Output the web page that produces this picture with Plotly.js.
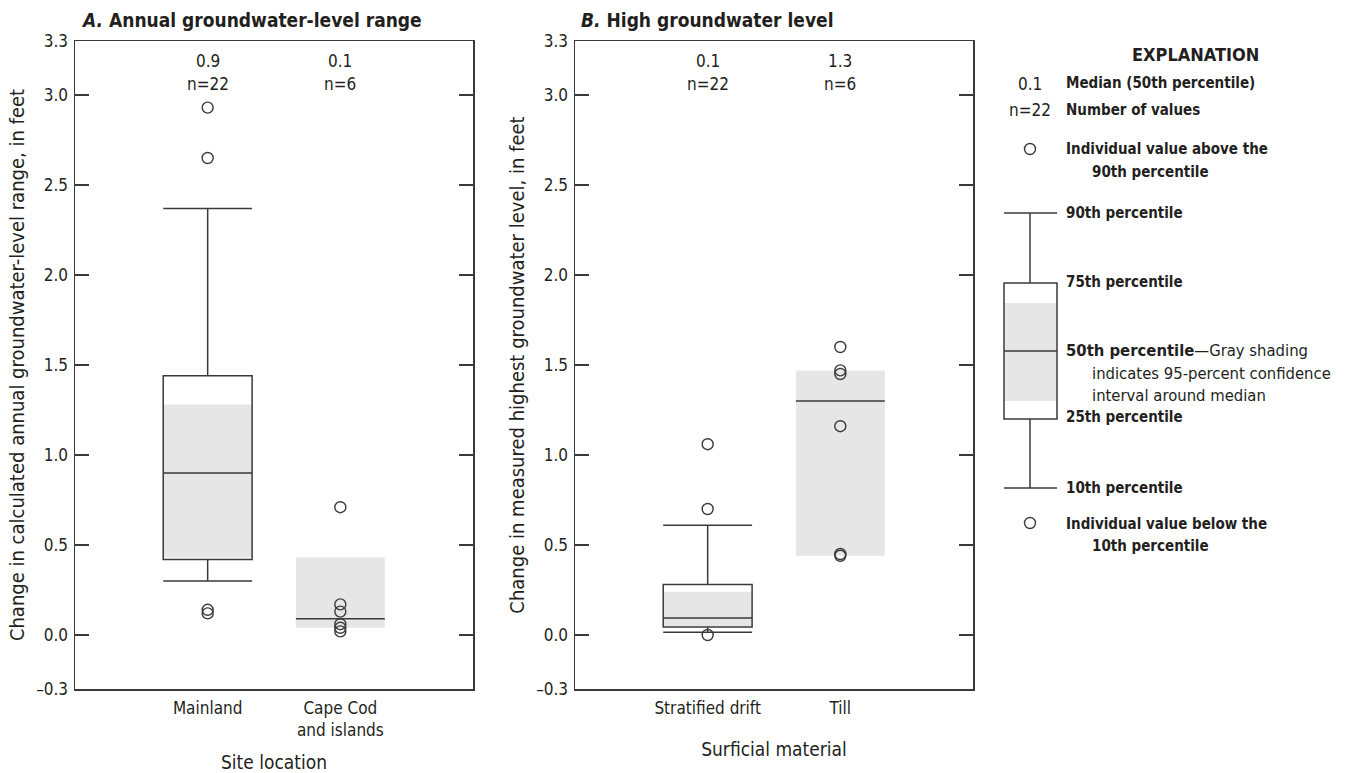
<!DOCTYPE html>
<html>
<head>
<meta charset="utf-8">
<script src="https://cdn.plot.ly/plotly-3.0.1.min.js"></script>
<style>html,body{margin:0;padding:0;background:#fff;}#chart{width:1348px;height:773px;}</style>
</head>
<body>
<div id="chart"></div>
<script>
// ---------- DATA ----------
// Panel A: annual groundwater-level range, by site location
const catsA = ["Mainland", "Cape Cod<br>and islands"];
const medianLabelA = ["0.9", "0.1"];
const countA = [22, 6];
// box statistics (only for groups with a drawn box)
const boxA_p10 = [0.30];
const boxA_q1 = [0.42];
const boxA_med = [0.90];
const boxA_q3 = [1.44];
const boxA_p90 = [2.37];
// medians and 95% CI for each group
const medA = [0.90, 0.09];
const ciLowA = [0.43, 0.04];
const ciHighA = [1.28, 0.43];
// individual values
const ptsMainland = [2.93, 2.65, 0.14, 0.12];
const ptsCapeCod = [0.71, 0.17, 0.13, 0.06, 0.04, 0.02];

// Panel B: high groundwater level, by surficial material
const catsB = ["Stratified drift", "Till"];
const medianLabelB = ["0.1", "1.3"];
const countB = [22, 6];
const boxB_p10 = [0.015];
const boxB_q1 = [0.045];
const boxB_med = [0.095];
const boxB_q3 = [0.28];
const boxB_p90 = [0.61];
const medB = [0.095, 1.30];
const ciLowB = [0.05, 0.44];
const ciHighB = [0.24, 1.47];
const ptsStratified = [1.06, 0.70, 0.0];
const ptsTill = [1.60, 1.47, 1.45, 1.16, 0.45, 0.44];

const yTickVals = [-0.3, 0, 0.5, 1.0, 1.5, 2.0, 2.5, 3.0, 3.3];
const yTickText = ["\u20130.3", "0.0", "0.5", "1.0", "1.5", "2.0", "2.5", "3.0", "3.3"];

// ---------- STYLE ----------
const W = 1348, H = 773;
const FONT = "'Liberation Sans Narrow', 'DejaVu Sans Condensed', 'Arial Narrow', sans-serif";
const INK = "#231f20";
const LINE = "#3a3a3a";
const SHADE = "#e6e6e6";
const BOXW = 0.67;
const px = v => v / W;
const py = v => 1 - v / H;

const traces = [];
const shapes = [];
const annotations = [];

function addPanel(xa, ya, cats, boxStats, meds, ciLo, ciHi, ptsList, medLabels, counts) {
  cats.forEach((c, i) => {
    shapes.push({type: 'rect', xref: xa, yref: ya, layer: 'below',
      x0: i - BOXW / 2, x1: i + BOXW / 2, y0: ciLo[i], y1: ciHi[i],
      fillcolor: SHADE, line: {width: 0}});
    if (counts[i] < 10) {
      shapes.push({type: 'line', xref: xa, yref: ya,
        x0: i - BOXW / 2, x1: i + BOXW / 2, y0: meds[i], y1: meds[i],
        line: {color: LINE, width: 1.5}});
    }
    annotations.push({xref: xa, yref: 'paper', x: i, y: py(61), text: medLabels[i],
      showarrow: false, font: {family: FONT, size: 17, color: INK}, yanchor: 'middle'});
    annotations.push({xref: xa, yref: 'paper', x: i, y: py(84), text: 'n=' + counts[i],
      showarrow: false, font: {family: FONT, size: 17, color: INK}, yanchor: 'middle'});
  });
  traces.push({type: 'box', xaxis: xa, yaxis: ya, x: [0],
    q1: boxStats.q1, median: boxStats.med, q3: boxStats.q3,
    lowerfence: boxStats.p10, upperfence: boxStats.p90,
    width: BOXW, whiskerwidth: 1, fillcolor: 'rgba(0,0,0,0)',
    line: {color: LINE, width: 1.5}, boxpoints: false, hoverinfo: 'skip', showlegend: false});
  ptsList.forEach((pts, i) => {
    traces.push({type: 'scatter', mode: 'markers', xaxis: xa, yaxis: ya,
      x: pts.map(() => i), y: pts,
      marker: {symbol: 'circle-open', size: 11, color: LINE, line: {width: 1.4, color: LINE}},
      hoverinfo: 'skip', showlegend: false});
  });
}

addPanel('x', 'y', catsA,
  {q1: boxA_q1, med: boxA_med, q3: boxA_q3, p10: boxA_p10, p90: boxA_p90},
  medA, ciLowA, ciHighA, [ptsMainland, ptsCapeCod], medianLabelA, countA);
addPanel('x2', 'y2', catsB,
  {q1: boxB_q1, med: boxB_med, q3: boxB_q3, p10: boxB_p10, p90: boxB_p90},
  medB, ciLowB, ciHighB, [ptsStratified, ptsTill], medianLabelB, countB);

// panel titles
annotations.push({xref: 'paper', yref: 'paper', x: px(79), y: py(20), xanchor: 'left', yanchor: 'middle',
  text: '<b><i>A.</i> Annual groundwater-level range</b>', showarrow: false,
  font: {family: FONT, size: 19, color: INK}});
annotations.push({xref: 'paper', yref: 'paper', x: px(579), y: py(20), xanchor: 'left', yanchor: 'middle',
  text: '<b><i>B.</i> High groundwater level</b>', showarrow: false,
  font: {family: FONT, size: 19, color: INK}});

// ---------- EXPLANATION (legend) ----------
const LX = 1030, LL = 1004, LR = 1057, TX = 1064, TI = 1090;
const legText = (x, y, t, bold, size) => annotations.push({xref: 'paper', yref: 'paper',
  x: px(x), y: py(y), xanchor: 'left', yanchor: 'middle', showarrow: false,
  text: bold ? '<b>' + t + '</b>' : t, font: {family: FONT, size: size || 15, color: INK}});
annotations.push({xref: 'paper', yref: 'paper', x: px(1195), y: py(54), xanchor: 'center', yanchor: 'middle',
  showarrow: false, text: '<b>EXPLANATION</b>', font: {family: FONT, size: 18, color: INK}});
annotations.push({xref: 'paper', yref: 'paper', x: px(LX), y: py(84), xanchor: 'center', yanchor: 'middle',
  showarrow: false, text: '0.1', font: {family: FONT, size: 17, color: INK}});
annotations.push({xref: 'paper', yref: 'paper', x: px(LX), y: py(110), xanchor: 'center', yanchor: 'middle',
  showarrow: false, text: 'n=22', font: {family: FONT, size: 17, color: INK}});
legText(TX, 83, 'Median (50th percentile)', true);
legText(TX, 110, 'Number of values', true);
legText(TX, 149, 'Individual value above the', true);
legText(TI, 172, '90th percentile', true);
legText(TX, 213, '90th percentile', true);
legText(TX, 282, '75th percentile', true);
legText(TX, 350, '<b>50th percentile</b>\u2014Gray shading', false, 16.5);
legText(TI, 373, 'indicates 95-percent confidence', false, 16.5);
legText(TI, 395, 'interval around median', false, 16.5);
legText(TX, 417, '25th percentile', true);
legText(TX, 488, '10th percentile', true);
legText(TX, 524, 'Individual value below the', true);
legText(TI, 546, '10th percentile', true);

const pl = (x0, y0, x1, y1) => shapes.push({type: 'line', xref: 'paper', yref: 'paper',
  x0: px(x0), y0: py(y0), x1: px(x1), y1: py(y1), line: {color: LINE, width: 1.5}});
shapes.push({type: 'rect', xref: 'paper', yref: 'paper', x0: px(LL + 1), x1: px(LR - 1),
  y0: py(303), y1: py(401), fillcolor: SHADE, line: {width: 0}});
pl(LL, 213, LR, 213);
pl(LX, 213, LX, 283);
shapes.push({type: 'rect', xref: 'paper', yref: 'paper', x0: px(LL), x1: px(LR),
  y0: py(283), y1: py(419), fillcolor: 'rgba(0,0,0,0)', line: {color: LINE, width: 1.5}});
pl(LL, 351, LR, 351);
pl(LX, 419, LX, 488);
pl(LL, 488, LR, 488);
[149, 523].forEach(cy => shapes.push({type: 'circle', xref: 'paper', yref: 'paper',
  x0: px(LX - 5.5), x1: px(LX + 5.5), y0: py(cy + 5.5), y1: py(cy - 5.5),
  line: {color: LINE, width: 1.4}}));

// ---------- AXES ----------
const yDomain = [py(689), py(41)];
function xAxis(domain, cats, title, anchor, standoff) {
  return {domain: domain, anchor: anchor, range: [-1, 2], tickvals: [0, 1], ticktext: cats,
    ticks: '', showline: true, mirror: true, linecolor: LINE, linewidth: 1.5,
    showgrid: false, zeroline: false, fixedrange: true, ticklabelstandoff: 3,
    tickfont: {family: FONT, size: 17, color: INK},
    title: {text: title, standoff: standoff, font: {family: FONT, size: 19, color: INK}}};
}
function yAxis(title, anchor) {
  return {domain: yDomain, anchor: anchor, range: [-0.3, 3.3], tickvals: yTickVals, ticktext: yTickText,
    ticks: 'inside', ticklen: 14, tickwidth: 1.5, tickcolor: LINE, mirror: 'ticks',
    showline: true, linecolor: LINE, linewidth: 1.5, showgrid: false, zeroline: false,
    fixedrange: true, ticklabelstandoff: 2,
    tickfont: {family: FONT, size: 17, color: INK},
    title: {text: title, standoff: 6, font: {family: FONT, size: 20, color: INK}}};
}

const layout = {
  width: W, height: H,
  margin: {l: 0, r: 0, t: 0, b: 0},
  paper_bgcolor: '#fff', plot_bgcolor: '#fff',
  showlegend: false,
  xaxis: xAxis([px(75), px(473)], catsA, 'Site location', 'y', 16),
  yaxis: yAxis('Change in calculated annual groundwater-level range, in feet', 'x'),
  xaxis2: xAxis([px(575), px(973)], catsB, 'Surficial material', 'y2', 26),
  yaxis2: yAxis('Change in measured highest groundwater level, in feet', 'x2'),
  shapes: shapes,
  annotations: annotations
};

Plotly.newPlot('chart', traces, layout, {displayModeBar: false, staticPlot: true});
</script>
</body>
</html>
